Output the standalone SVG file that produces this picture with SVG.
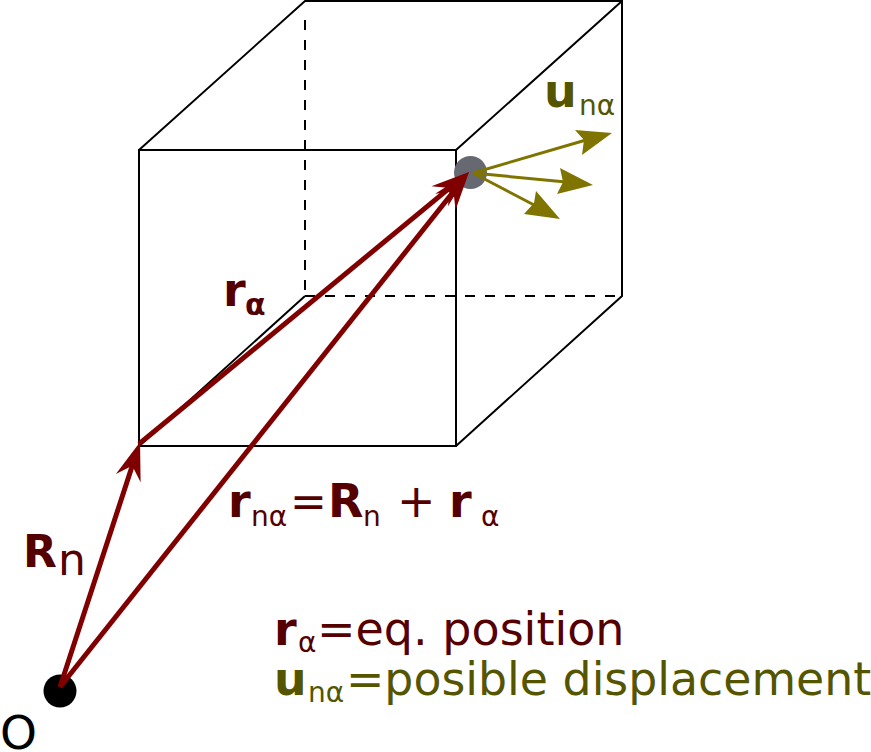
<svg xmlns="http://www.w3.org/2000/svg" width="871" height="752" viewBox="0 0 871 752">
<style>
text{font-family:"DejaVu Sans",sans-serif;white-space:pre}
.b{font-weight:bold}
.m{fill:#550000}
.o{fill:#555500}
.s{font-size:28px}
.e{fill:none;stroke:#000;stroke-width:2}
.d{stroke-dasharray:10 10}
.r{fill:none;stroke:#800000;stroke-width:5;marker-end:url(#rh)}
.u{fill:none;stroke:#807400;stroke-width:3}
.uh{fill:#807400}
</style>
<defs>
<marker id="rh" markerUnits="userSpaceOnUse" markerWidth="44" markerHeight="30" refX="24" refY="14" orient="auto" overflow="visible">
<path d="M38 14L0 1L13 14L0 27Z" fill="#800000"/>
</marker>
</defs>
<rect width="871" height="752" fill="#fff"/>
<g id="cube">
<rect class="e" x="139" y="150" width="317" height="296"/>
<path class="e" d="M139 150L305 1H622V296L456 446M456 150L622 1M305 296L139 446"/>
<path class="e d" d="M305 20V296M305 296H622"/>
</g>
<g id="atom"><circle cx="470.500" cy="172.500" r="16.500" fill="#666872"/></g>
<g id="origin"><circle cx="60" cy="691" r="16.500" fill="#000"/></g>
<g id="connectors">
<path class="r" d="M60 687L135.700 455.300"/>
<path class="r" d="M139 444L458.200 180.900"/>
<path class="r" d="M60 687L460.300 183"/>
<path class="u" d="M473 173L586 140"/>
<path class="uh" d="M612 133L582 155L584 140L575 130Z"/>
<path class="u" d="M473 173L566 182"/>
<path class="uh" d="M593 185L557 194L563 182L560 168Z"/>
<path class="u" d="M473 173L536 206"/>
<path class="uh" d="M560 219L524 214L534 203L536 191Z"/>
</g>
<g id="labels">
<text x="544" y="107" font-size="46" class="b o">u</text>
<text x="579" y="115" font-size="28" class="o">nα</text>
<text x="223" y="306" font-size="46" class="b m">r</text>
<text x="245" y="315" font-size="30" class="b m">α</text>
<text x="23" y="567" font-size="44" class="b m">R</text>
<text x="58" y="575" font-size="44" class="m">n</text>
<text x="0" y="749" font-size="47">O</text>
<text y="517" font-size="46" class="m"><tspan x="228" class="b">r</tspan><tspan x="251" y="526" class="s">nα</tspan><tspan x="290" y="517" font-size="44">=</tspan><tspan x="328" class="b">R</tspan><tspan x="363" y="526" class="s">n</tspan><tspan x="397" y="517">+</tspan><tspan x="449" class="b">r</tspan><tspan x="481" y="526" class="s">α</tspan></text>
<text y="645" font-size="46" class="m"><tspan x="274" class="b">r</tspan><tspan x="298" y="652" class="s">α</tspan><tspan x="317" y="645">=eq. position</tspan></text>
<text y="695" font-size="45.800" class="o"><tspan x="274" class="b">u</tspan><tspan x="308" y="702" class="s">nα</tspan><tspan x="346" y="695">=posible displacement</tspan></text>
</g>
</svg>
